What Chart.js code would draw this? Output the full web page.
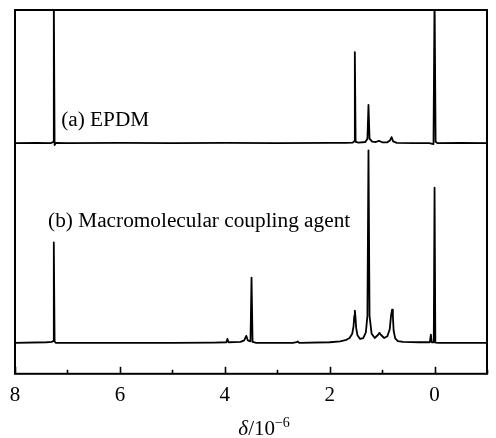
<!DOCTYPE html>
<html lang="en">
<head>
<meta charset="UTF-8">
<title>1H NMR spectra</title>
<script src="https://cdn.jsdelivr.net/npm/chart.js"></script>
<style>
  html, body { margin: 0; padding: 0; background: #fff; }
  #wrap { width: 496px; height: 438px; }
</style>
</head>
<body>
<div id="wrap"><canvas id="nmr"></canvas></div>
<script>
// (a) EPDM: chemical shift (ppm) and intensity above its own baseline
const shiftA = [8.0, 7.6, 7.32, 7.275, 7.26, 7.245, 7.22, 7.0, 6.0, 5.0, 4.0, 3.0, 2.0, 1.7, 1.56, 1.535, 1.52, 1.505,
  1.45, 1.32, 1.28, 1.26, 1.24, 1.19, 1.12, 1.06, 1.0, 0.9, 0.85, 0.82, 0.79, 0.72, 0.4, 0.1, 0.02, 0.0, -0.02, -0.06, -0.5, -1.0];
const intensityA = [0, 0.1, 0, 0.4, 50, -0.6, 0.1, 0, 0.1, 0, 0.1, 0, 0.1, 0.1, 0.2, 0.6, 30.3, 0.4,
  0.2, 0.4, 1.5, 12.7, 1.5, 0.5, 0.4, 0.8, 0.3, 0.3, 0.9, 2.0, 0.6, 0.1, 0, 0, -0.3, 50, 0.5, 0, 0.1, 0];
const offsetA = 76.7;

// (b) macromolecular coupling agent
const shiftB = [8.0, 7.4, 7.3, 7.275, 7.26, 7.245, 7.22, 6.5, 5.0, 4.2, 3.97, 3.95, 3.93, 3.7, 3.63, 3.59, 3.56, 3.51, 3.49, 3.47,
  3.4, 2.7, 2.63, 2.61, 2.58, 2.0, 1.8, 1.68, 1.62, 1.57, 1.545, 1.53, 1.52, 1.51, 1.495, 1.47, 1.42, 1.36, 1.31, 1.28, 1.26, 1.24, 1.2, 1.14,
  1.08, 1.05, 1.02, 0.96, 0.9, 0.855, 0.83, 0.81, 0.795, 0.78, 0.75, 0.7, 0.6, 0.3, 0.09, 0.07, 0.055, 0.015, 0.0, -0.015, -0.1, -1.0];
const intensityB = [0, 0.2, 0.3, 0.6, 33.4, 0.4, 0, 0, 0, 0.1, 0.2, 1.3, 0.2, 0.3, 0.8, 2.3, 0.8, 0.5, 21.7, 0.3,
  0, 0, 0.2, 0.5, 0, 0.2, 0.5, 1.0, 1.6, 3.0, 5.5, 9.0, 10.7, 9.0, 5.0, 2.5, 1.3, 1.6, 3.5, 9.0, 64, 9.0, 3.0, 1.6,
  2.6, 3.3, 2.6, 1.6, 2.2, 4.5, 9.0, 11.0, 9.0, 4.0, 1.5, 0.6, 0.3, 0.2, 0.2, 2.7, 0.2, 0.2, 51.6, 0.1, 0, 0];
const offsetB = 10.3;

const xTicks = [8, 6, 4, 2, 0];
const labelA = '(a) EPDM';
const labelB = '(b) Macromolecular coupling agent';

const serif = 'Liberation Serif, Times New Roman, serif';

function toPoints(xs, ys, off) {
  return xs.map((x, i) => ({ x: x, y: ys[i] + off }));
}

// frame, inward ticks, trace labels and the axis title
const decor = {
  id: 'decor',
  beforeDraw(chart) {
    const c = chart.ctx;
    c.save();
    c.fillStyle = '#fff';
    c.fillRect(0, 0, chart.width, chart.height);
    c.restore();
  },
  afterDatasetsDraw(chart) {
    const c = chart.ctx;
    const a = chart.chartArea;
    const xs = chart.scales.x, ys = chart.scales.y;
    c.save();
    c.strokeStyle = '#000';
    c.lineWidth = 2;
    c.strokeRect(a.left, a.top, a.right - a.left, a.bottom - a.top);

    // major ticks every 2 ppm, minor ones in between, pointing inside
    c.lineWidth = 1.6;
    for (let v = 8; v >= -1; v--) {
      const px = Math.round(xs.getPixelForValue(v)) + 0.5;
      const len = xTicks.includes(v) ? 7 : 4;
      c.beginPath();
      c.moveTo(px, a.bottom);
      c.lineTo(px, a.bottom - len);
      c.stroke();
    }

    c.fillStyle = '#000';
    c.font = '21.3px ' + serif;
    c.textBaseline = 'alphabetic';
    c.textAlign = 'left';
    c.fillText(labelA, xs.getPixelForValue(7.12), ys.getPixelForValue(82.3));
    c.fillText(labelB, xs.getPixelForValue(7.37), ys.getPixelForValue(48.7));

    // δ/10^-6
    const base = 435;
    const parts = [
      { t: 'δ', f: 'italic 21px ' + serif, dy: 0 },
      { t: '/10', f: '21px ' + serif, dy: 0 },
      { t: '−6', f: '14px ' + serif, dy: -8 }
    ];
    let w = 0;
    parts.forEach(p => { c.font = p.f; p.w = c.measureText(p.t).width; w += p.w; });
    let x = xs.getPixelForValue(3.25) - w / 2;
    parts.forEach(p => {
      c.font = p.f;
      c.fillText(p.t, x, base + p.dy);
      x += p.w;
    });
    c.restore();
  }
};

const lineStyle = { borderColor: '#000', borderWidth: 1.8, borderJoinStyle: 'round', pointRadius: 0, tension: 0, fill: false };

new Chart(document.getElementById('nmr'), {
  type: 'line',
  data: {
    datasets: [
      Object.assign({ data: toPoints(shiftA, intensityA, offsetA) }, lineStyle),
      Object.assign({ data: toPoints(shiftB, intensityB, offsetB) }, lineStyle)
    ]
  },
  options: {
    responsive: true,
    maintainAspectRatio: false,
    animation: false,
    devicePixelRatio: 1,
    layout: { padding: { left: 15, right: 8, top: 10, bottom: 21 } },
    plugins: { legend: { display: false }, tooltip: { enabled: false } },
    scales: {
      x: {
        type: 'linear',
        reverse: true,
        min: -1,
        max: 8,
        border: { display: false },
        grid: { display: false, drawTicks: false },
        ticks: {
          stepSize: 1,
          padding: 9,
          color: '#000',
          font: { family: serif, size: 21 },
          maxRotation: 0,
          autoSkip: false,
          callback: v => xTicks.includes(v) ? String(v) : ''
        }
      },
      y: { display: false, min: 0, max: 121 }
    }
  },
  plugins: [decor]
});
</script>
</body>
</html>
